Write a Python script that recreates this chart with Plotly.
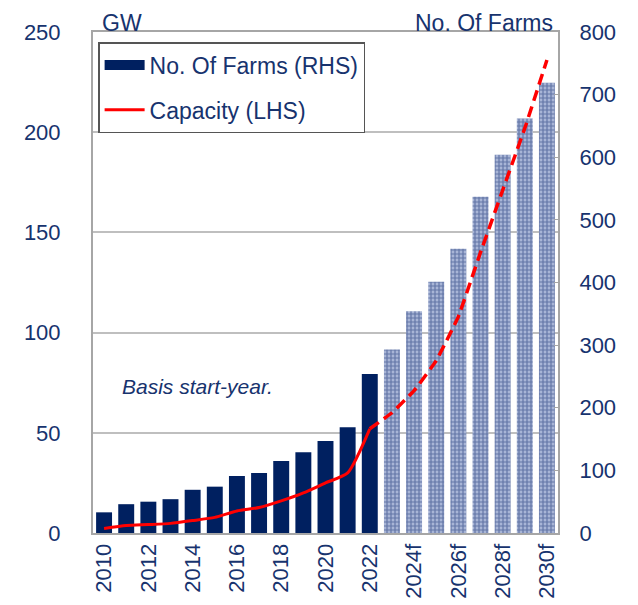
import plotly.graph_objects as go

years = ["2010", "2011", "2012", "2013", "2014", "2015", "2016", "2017", "2018",
         "2019", "2020", "2021", "2022", "2023f", "2024f", "2025f", "2026f",
         "2027f", "2028f", "2029f", "2030f"]
n_actual = 13  # 2010-2022 actual, rest forecast

farms = [33, 46, 50, 54, 69, 74, 91, 96, 115, 129, 147, 169, 254,
         293, 354, 401, 454, 537, 604, 662, 719]
capacity = [2.3, 3.7, 4.2, 4.8, 6.2, 7.8, 11, 12.7, 16, 20, 25, 30, 52,
            60, 71, 86, 108, 140, 171, 202, 236]

tick_labels = ["2010", "2012", "2014", "2016", "2018", "2020", "2022",
               "2024f", "2026f", "2028f", "2030f"]

NAVY = "#002060"
TXT = "#17336E"
RED = "#FF0000"
FONT = "Liberation Sans, Arial, sans-serif"

fig = go.Figure()

# legend-only entry drawn as a wide navy bar swatch
fig.add_trace(go.Scatter(
    x=[None], y=[None], name="No. Of Farms (RHS)", mode="lines",
    line=dict(color=NAVY, width=13), legendgroup="a", yaxis="y",
))
fig.add_trace(go.Bar(
    x=years[:n_actual], y=farms[:n_actual], name="No. Of Farms (RHS)",
    marker=dict(color=NAVY, line=dict(width=0)), yaxis="y", width=0.72,
    showlegend=False, legendgroup="a",
))
fig.add_trace(go.Bar(
    x=years[n_actual:], y=farms[n_actual:], name="No. Of Farms (RHS) f",
    marker=dict(color="#ffffff", line=dict(width=0),
                pattern=dict(shape="+", fgcolor="#1A3375", bgcolor="#A8B5D6",
                             size=4, solidity=0.5)),
    yaxis="y", width=0.72, showlegend=False, legendgroup="a",
))
fig.add_trace(go.Scatter(
    x=years[:n_actual], y=capacity[:n_actual], name="Capacity (LHS)",
    mode="lines", line=dict(color=RED, width=3, shape="spline", smoothing=0.6),
    legendgroup="b", yaxis="y2",
))
fig.add_trace(go.Scatter(
    x=years[n_actual - 1:], y=capacity[n_actual - 1:], name="Capacity f",
    mode="lines", line=dict(color=RED, width=3.5, dash="11px,6px", shape="spline", smoothing=0.3),
    showlegend=False, legendgroup="b", yaxis="y2",
))

fig.update_layout(
    width=638, height=605,
    margin=dict(l=85, r=88, t=24, b=80),
    paper_bgcolor="white", plot_bgcolor="white",
    barmode="overlay",
    font=dict(family=FONT, size=21, color=TXT),
    showlegend=True,
    legend=dict(
        x=0.011, y=0.98, xanchor="left", yanchor="top",
        bordercolor="#555555", borderwidth=1.5, bgcolor="white",
        font=dict(size=23, color=TXT), traceorder="grouped", tracegroupgap=12,
        itemwidth=40,
    ),
    xaxis=dict(
        type="category", categoryorder="array", categoryarray=years,
        tickmode="array", tickvals=tick_labels, ticktext=tick_labels,
        tickangle=-90, showgrid=False, showline=True, linecolor="#A6A6A6",
        linewidth=2, mirror=True, ticks="", range=[-0.5, 20.5],
        tickfont=dict(size=22, color=TXT),
    ),
    # farms axis (right)
    yaxis=dict(
        range=[0, 800], tickvals=[0, 100, 200, 300, 400, 500, 600, 700, 800],
        side="right", showgrid=False, zeroline=False,
        showline=True, linecolor="#A6A6A6", linewidth=2,
        ticks="inside", ticklen=4, tickcolor="#A6A6A6",
        ticklabelstandoff=15, tickfont=dict(size=22, color=TXT),
    ),
    # capacity axis (left)
    yaxis2=dict(
        range=[0, 250], tickvals=[0, 50, 100, 150, 200, 250],
        overlaying="y", side="left",
        showgrid=True, gridcolor="#BFBFBF", gridwidth=1.5,
        showline=True, linecolor="#A6A6A6", linewidth=2, zeroline=False,
        ticks="", ticklabelstandoff=26, tickfont=dict(size=22, color=TXT),
    ),
    annotations=[
        dict(text="GW", xref="paper", yref="paper", x=0.015, y=1.0479,
             xanchor="left", yanchor="top", showarrow=False,
             font=dict(size=23, color=TXT)),
        dict(text="No. Of Farms", xref="paper", yref="paper", x=0.994, y=1.0479,
             xanchor="right", yanchor="top", showarrow=False,
             font=dict(size=23, color=TXT)),
        dict(text="<i>Basis start-year.</i>", xref="paper", yref="y2", x=0.058, y=73,
             xanchor="left", yanchor="middle", showarrow=False,
             font=dict(size=21, color=TXT)),
    ],
)

fig.write_html("out.html")
